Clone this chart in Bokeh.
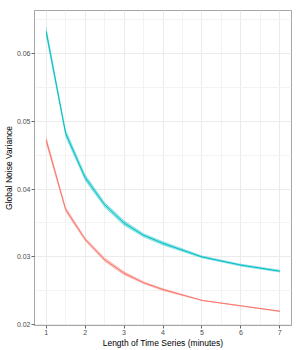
from bokeh.plotting import figure
from bokeh.models import Range1d, FixedTicker
from bokeh.embed import file_html
from bokeh.resources import INLINE

# data
minutes = [1, 1.5, 2, 2.5, 3, 3.5, 4, 5, 6, 7]
cyan_mid = [0.0632, 0.0482, 0.0417, 0.0377, 0.0350, 0.0332, 0.0320, 0.0300, 0.0288, 0.0279]
cyan_lo = [0.0624, 0.0476, 0.0412, 0.0373, 0.0346, 0.0329, 0.0317, 0.0298, 0.0286, 0.0277]
cyan_hi = [0.0640, 0.0488, 0.0422, 0.0381, 0.0354, 0.0335, 0.0323, 0.0302, 0.0290, 0.0281]
red_mid = [0.0472, 0.0370, 0.0326, 0.0296, 0.0276, 0.0262, 0.0252, 0.0236, 0.0228, 0.0220]
red_lo = [0.0466, 0.0366, 0.0323, 0.0293, 0.0273, 0.0260, 0.0250, 0.0235, 0.0227, 0.0219]
red_hi = [0.0478, 0.0374, 0.0329, 0.0299, 0.0279, 0.0264, 0.0254, 0.0237, 0.0229, 0.0221]
x_ticks = [1, 2, 3, 4, 5, 6, 7]
x_minor = [1.5, 2.5, 3.5, 4.5, 5.5, 6.5]
y_ticks = [0.02, 0.03, 0.04, 0.05, 0.06]
y_minor = [0.025, 0.035, 0.045, 0.055, 0.065]

FONT = "Liberation Sans"

p = figure(width=301, height=350, output_backend="svg", toolbar_location=None,
           x_range=Range1d(0.7, 7.3), y_range=Range1d(0.0199, 0.0663),
           min_border_left=20, min_border_top=10, min_border_right=10, min_border_bottom=15)

p.background_fill_color = "white"
p.border_fill_color = "white"
p.outline_line_color = "#A6A6A6"
p.outline_line_width = 1

for g in (p.xgrid, p.ygrid):
    g.grid_line_color = "#EBEBEB"
    g.grid_line_width = 1
    g.minor_grid_line_color = "#F3F3F3"
    g.minor_grid_line_width = 1

p.xaxis.ticker = FixedTicker(ticks=x_ticks, minor_ticks=x_minor)
p.yaxis.ticker = FixedTicker(ticks=y_ticks, minor_ticks=y_minor)

for ax in (p.xaxis, p.yaxis):
    ax.axis_line_color = "#A6A6A6"
    ax.major_tick_line_color = "#666666"
    ax.major_tick_out = 3
    ax.major_tick_in = 0
    ax.minor_tick_line_color = None
    ax.major_label_text_font = FONT
    ax.major_label_text_font_size = "7px"
    ax.major_label_text_color = "#4D4D4D"
    ax.major_label_standoff = 0
    ax.axis_label_text_font = FONT
    ax.axis_label_text_font_size = "8.5px"
    ax.axis_label_text_font_style = "normal"
    ax.axis_label_text_color = "#000000"
    ax.axis_label_standoff = 0

p.xaxis.axis_label = "Length of Time Series (minutes)"
p.yaxis.axis_label = "Global Noise Variance"
p.yaxis.major_label_orientation = "horizontal"

p.varea(x=minutes, y1=red_lo, y2=red_hi, fill_color="#F8766D", fill_alpha=0.45)
p.line(x=minutes, y=red_mid, line_color="#F8766D", line_width=1)
p.varea(x=minutes, y1=cyan_lo, y2=cyan_hi, fill_color="#00BFC4", fill_alpha=0.45)
p.line(x=minutes, y=cyan_mid, line_color="#00BFC4", line_width=1)

open("out.html", "w").write(file_html(p, INLINE))
